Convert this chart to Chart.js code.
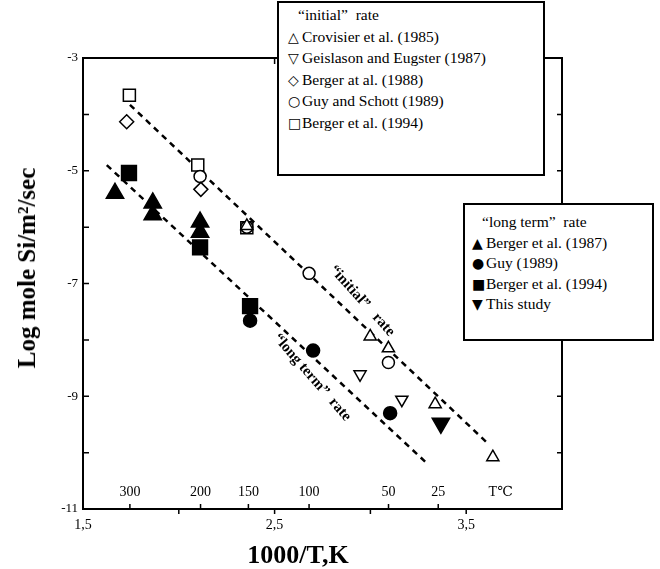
<!DOCTYPE html>
<html lang="en">
<head>
<meta charset="UTF-8">
<title>Log mole Si/m2/sec vs 1000/T</title>
<script src="https://cdn.jsdelivr.net/npm/chart.js@4"></script>
<style>
    body {
        margin: 0;
        background: #fff;
        color: #000;
        font-family: 'Liberation Serif', 'DejaVu Serif', serif;
    }
    #wrap {
        position: relative;
        width: 660px;
        height: 569px;
    }
    .legend {
        position: absolute;
        background: #fff;
        border: 2px solid #000;
        box-sizing: border-box;
        font-size: 15.5px;
        white-space: nowrap;
    }
    .legend div { overflow: visible; }
    .legend .ttl { padding-left: 10px; }
    .legend .sym {
        display: inline-block;
        width: 14px;
        font-family: 'DejaVu Sans', sans-serif;
        font-size: 14px;
        line-height: 10px;
    }
    #legInit { left: 277px; top: 1px; width: 268px; height: 175px; padding: 1px 0 0 9px; }
    #legInit div { height: 21.5px; line-height: 21.5px; }
    #legLong { left: 463px; top: 203px; width: 191px; height: 138px; padding: 7px 0 0 7px; }
    #legLong div { height: 20.5px; line-height: 20.5px; }
    .axtitle {
        position: absolute;
        font-weight: bold;
        white-space: nowrap;
        transform: translate(-50%, -50%);
    }
    #xTitle { left: 298px; top: 555px; font-size: 26px; }
    #yTitle { left: 27px; top: 268px; font-size: 25px; transform: translate(-50%, -50%) rotate(-90deg); }
</style>
</head>
<body>
<div id="wrap">
    <canvas id="c" width="660" height="569"></canvas>
    <div class="legend" id="legInit"></div>
    <div class="legend" id="legLong"></div>
    <div class="axtitle" id="xTitle">1000/T,K</div>
    <div class="axtitle" id="yTitle">Log mole Si/m²/sec</div>
</div>
<script>
// axis ticks
const xTickValues = [1.5, 2.5, 3.5];
const xTickLabels = ['1,5', '2,5', '3,5'];
const yTickValues = [-11, -9, -7, -5, -3];
const tempTicks = [300, 200, 150, 100, 50, 25];

// "initial" rate (open symbols)
const crovisierX = [2.355, 2.999, 3.094, 3.338, 3.639];
const crovisierY = [-5.98, -7.94, -8.15, -9.14, -10.08];
const geislasonX = [2.946, 3.164];
const geislasonY = [-8.61, -9.06];
const berger88X = [1.728, 2.115];
const berger88Y = [-4.13, -5.33];
const guySchottX = [2.111, 2.355, 2.680, 3.094];
const guySchottY = [-5.10, -6.00, -6.82, -8.40];
const berger94oX = [1.742, 2.099, 2.355];
const berger94oY = [-3.66, -4.90, -6.01];

// "long term" rate (filled symbols)
const berger87X = [1.667, 1.864, 1.864, 2.111, 2.111];
const berger87Y = [-5.40, -5.57, -5.78, -5.91, -6.09];
const guy89X = [2.372, 2.701, 3.103];
const guy89Y = [-7.66, -8.19, -9.30];
const berger94fX = [1.740, 2.111, 2.372];
const berger94fY = [-5.04, -6.36, -7.40];
const thisStudyX = [3.368];
const thisStudyY = [-9.48];

// dashed trend lines (end points)
const initialLineX = [1.745, 3.62];
const initialLineY = [-3.83, -9.86];
const longLineX = [1.624, 3.286];
const longLineY = [-4.90, -10.16];

const serif = "'Liberation Serif', 'DejaVu Serif', serif";

function pts(xs, ys) {
    return xs.map((x, i) => ({x: x, y: ys[i]}));
}

function marker(label, xs, ys, style, radius, filled, rot) {
    return {
        label: label,
        data: pts(xs, ys),
        showLine: false,
        pointStyle: style,
        pointRadius: radius,
        pointRotation: rot || 0,
        pointBorderWidth: 1.5,
        pointBorderColor: '#000',
        pointBackgroundColor: filled ? '#000' : '#fff',
        borderColor: '#000',
        backgroundColor: filled ? '#000' : '#fff'
    };
}

function dashed(xs, ys) {
    return {
        data: pts(xs, ys),
        showLine: true,
        pointRadius: 0,
        borderColor: '#000',
        borderWidth: 2.5,
        borderDash: [6, 5],
        fill: false
    };
}

const initialSets = [
    {sym: '\u25B3', ds: marker('Crovisier et al.  (1985)', crovisierX, crovisierY, 'triangle', 7, false)},
    {sym: '\u25BD', ds: marker('Geislason and Eugster  (1987)', geislasonX, geislasonY, 'triangle', 7, false, 180)},
    {sym: '\u25C7', ds: marker('Berger at al.  (1988)', berger88X, berger88Y, 'rectRot', 7, false)},
    {sym: '\u25CB', ds: marker('Guy and Schott  (1989)', guySchottX, guySchottY, 'circle', 6, false)},
    {sym: '\u25A1', ds: marker('Berger et al.  (1994)', berger94oX, berger94oY, 'rect', 8.5, false)}
];
const longSets = [
    {sym: '\u25B2', ds: marker('Berger et al.  (1987)', berger87X, berger87Y, 'triangle', 10, true)},
    {sym: '\u25CF', ds: marker('Guy  (1989)', guy89X, guy89Y, 'circle', 6.5, true)},
    {sym: '\u25A0', ds: marker('Berger et al.  (1994)', berger94fX, berger94fY, 'rect', 10.5, true)},
    {sym: '\u25BC', ds: marker('This study', thisStudyX, thisStudyY, 'triangle', 10, true, 180)}
];

function fillLegend(id, title, sets) {
    let html = '<div class="ttl">' + title + '</div>';
    sets.forEach(s => {
        html += '<div><span class="sym">' + s.sym + '</span>' + s.ds.label + '</div>';
    });
    document.getElementById(id).innerHTML = html;
}
fillLegend('legInit', '\u201Cinitial\u201D&nbsp; rate', initialSets);
fillLegend('legLong', '\u201Clong term\u201D&nbsp; rate', longSets);

// frame, extra tick marks, temperature scale and line labels
const extras = {
    id: 'extras',
    afterDraw(chart) {
        const ctx = chart.ctx;
        const xs = chart.scales.x, ys = chart.scales.y;
        const a = chart.chartArea;
        ctx.save();
        ctx.strokeStyle = '#000';
        ctx.fillStyle = '#000';
        ctx.lineWidth = 2;
        ctx.beginPath();
        ctx.moveTo(a.left, a.top);
        ctx.lineTo(a.right, a.top);
        ctx.lineTo(a.right, a.bottom);
        ctx.stroke();

        ctx.lineWidth = 1.5;
        ctx.beginPath();
        for (let v = -10; v <= -4; v++) {
            const py = ys.getPixelForValue(v);
            ctx.moveTo(a.left, py); ctx.lineTo(a.left + 6, py);
            ctx.moveTo(a.right, py); ctx.lineTo(a.right - 5, py);
        }
        [2.0, 2.5, 3.0, 3.5].forEach(v => {
            const px = xs.getPixelForValue(v);
            ctx.moveTo(px, a.bottom); ctx.lineTo(px, a.bottom + 5);
        });
        const tp = xs.getPixelForValue(2.5);
        ctx.moveTo(tp, a.top); ctx.lineTo(tp, a.top + 6);
        tempTicks.forEach(t => {
            const px = xs.getPixelForValue(1000 / (t + 273.15));
            ctx.moveTo(px, a.bottom); ctx.lineTo(px, a.bottom - 5);
        });
        ctx.stroke();

        ctx.font = '14px ' + serif;
        ctx.textAlign = 'center';
        ctx.textBaseline = 'middle';
        tempTicks.forEach(t => {
            ctx.fillText(String(t), xs.getPixelForValue(1000 / (t + 273.15)), a.bottom - 17);
        });
        ctx.fillText('T\u2103', xs.getPixelForValue(3.68), a.bottom - 17);

        ctx.font = 'bold 15px ' + serif;
        [['\u201Cinitial\u201D   rate', 2.957, -7.31, 48], ['\u201Clong term\u201D  rate', 2.696, -8.67, 49]].forEach(l => {
            ctx.save();
            ctx.translate(xs.getPixelForValue(l[1]), ys.getPixelForValue(l[2]));
            ctx.rotate(l[3] * Math.PI / 180);
            ctx.fillText(l[0], 0, 0);
            ctx.restore();
        });
        ctx.restore();
    }
};

new Chart(document.getElementById('c'), {
    type: 'scatter',
    data: {
        datasets: initialSets.map(s => s.ds)
            .concat(longSets.map(s => s.ds))
            .concat([dashed(initialLineX, initialLineY), dashed(longLineX, longLineY)])
    },
    options: {
        responsive: false,
        animation: false,
        layout: {padding: {left: 0, top: 58, right: 98, bottom: 0}},
        plugins: {legend: {display: false}, tooltip: {enabled: false}},
        scales: {
            x: {
                type: 'linear', min: 1.5, max: 4.0,
                afterBuildTicks(s) { s.ticks = xTickValues.map(v => ({value: v})); },
                afterFit(s) { s.height = 60; },
                grid: {display: false, drawTicks: false},
                border: {display: true, color: '#000', width: 2},
                ticks: {
                    autoSkip: false, maxRotation: 0, padding: 8, color: '#000',
                    font: {family: serif, size: 14},
                    callback: v => xTickLabels[xTickValues.indexOf(v)]
                }
            },
            y: {
                type: 'linear', min: -11, max: -3,
                afterBuildTicks(s) { s.ticks = yTickValues.map(v => ({value: v})); },
                afterFit(s) { s.width = 83; },
                grid: {display: false, drawTicks: false},
                border: {display: true, color: '#000', width: 2},
                ticks: {
                    autoSkip: false, padding: 5, color: '#000',
                    font: {family: serif, size: 13},
                    callback: v => String(v)
                }
            }
        }
    },
    plugins: [extras]
});
</script>
</body>
</html>
